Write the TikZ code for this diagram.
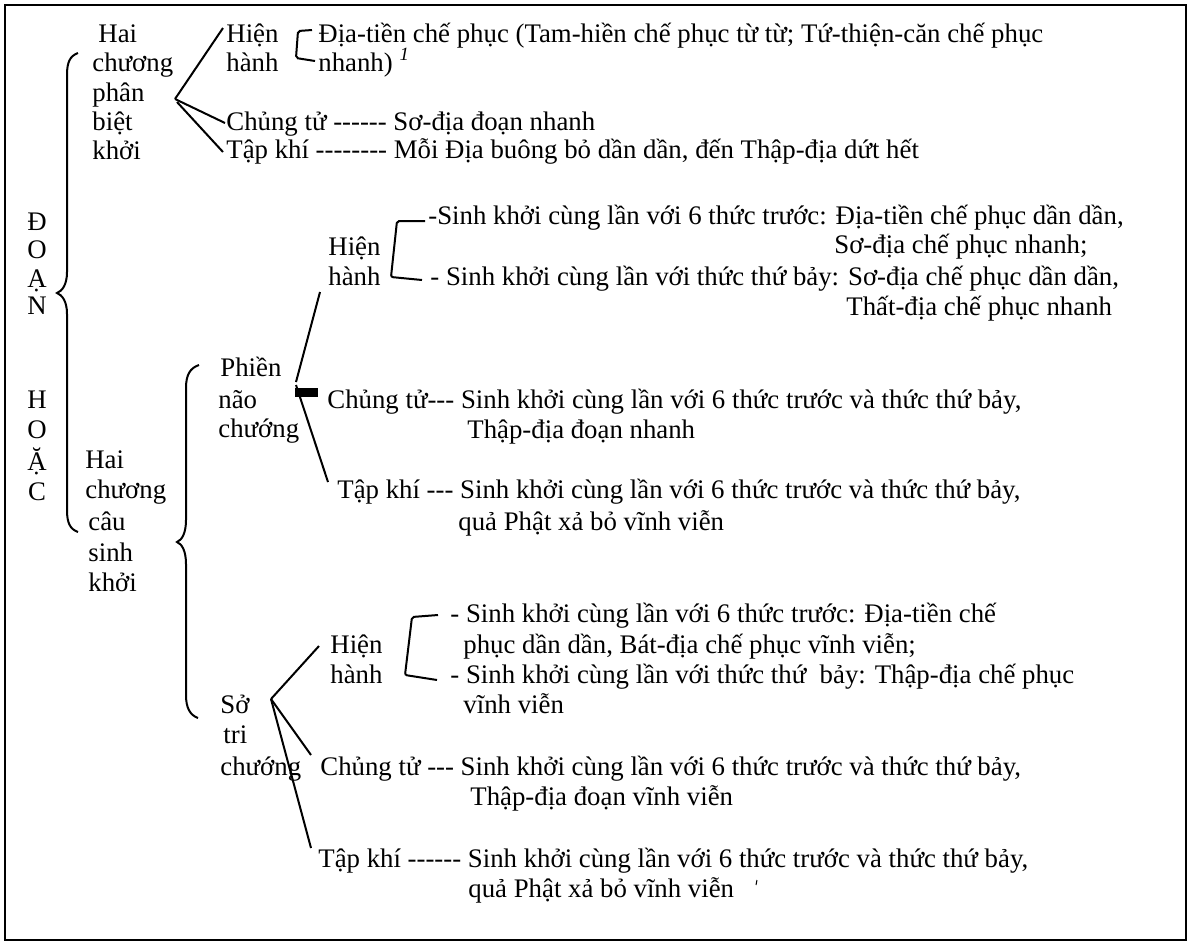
\documentclass[tikz,border=0pt]{standalone}
\usepackage{fontspec}
\newfontfamily\tnr{Liberation Serif}
\tikzset{
  t/.style={anchor=base west, inner sep=0pt, font=\tnr\fontsize{13.4}{15}\selectfont},
  tc/.style={anchor=base, inner sep=0pt, font=\tnr\fontsize{13.4}{15}\selectfont},
  ln/.style={line width=1pt},
  brk/.style={line width=1pt, rounded corners=1pt},
}
\begin{document}
\begin{tikzpicture}[x=0.5pt,y=-0.5pt]
\useasboundingbox (0,0) rectangle (1191,944);
\draw[line width=1.2pt] (5,5) rectangle (1186,940);

% --- ĐOẠN HOẶC ---
\node[tc] (l1) at (37,230) {Đ};
\node[tc] (l2) at (37,258) {O};
\node[tc] (l3) at (37,287) {Ạ};
\node[tc] (l4) at (37,314) {N};
\node[tc] (l5) at (37,408) {H};
\node[tc] (l6) at (37,438) {O};
\node[tc] (l7) at (37,470) {Ặ};
\node[tc] (l8) at (37,500) {C};

% big brace
\draw[ln] (78,53) .. controls (70,56) and (67,62) .. (67,75) -- (67,272)
  .. controls (67,285) and (62,291) .. (57,293)
  .. controls (62,295) and (67,301) .. (67,314) -- (67,510)
  .. controls (67,523) and (70,529) .. (78,532);

% --- Block 1 ---
\node[t] (a1) at (98,42) {Hai};
\node[t] (a2) at (92,71) {chương};
\node[t] (a3) at (92,101) {phân};
\node[t] (a4) at (92,130) {biệt};
\node[t] (a5) at (92,159) {khởi};

\coordinate (f1) at (175,99);
\coordinate (f1b) at (177,102);
\coordinate (e1a) at (223,28);
\coordinate (e1b) at (225,123);
\coordinate (e1c) at (223,152);
\draw[ln] (f1) -- (e1a);
\draw[ln] (f1) -- (e1b);
\draw[ln] (f1b) -- (e1c);

\node[t] (h1) at (226,42) {Hiện};
\node[t] (h1b) at (226,71) {hành};
\draw[brk] (312,30) -- (298,31) -- (296,58) -- (315,61);
\node[t] (d1) at (318,42) {Địa-tiền chế phục (Tam-hiền chế phục từ từ; Tứ-thiện-căn chế phục};
\node[t] (d2) at (318,71) {nhanh) \textsuperscript{\itshape 1}};
\node[t] (c1) at (226,130) {Chủng tử ------ Sơ-địa đoạn nhanh};
\node[t] (k1) at (226,158) {Tập khí -------- Mỗi Địa buông bỏ dần dần, đến Thập-địa dứt hết};

% --- Block 2 ---
\node[t] (b1) at (85,468) {Hai};
\node[t] (b2) at (85,498) {chương};
\node[t] (b3) at (88,530) {câu};
\node[t] (b4) at (88,561) {sinh};
\node[t] (b5) at (88,591) {khởi};

\draw[ln] (199,365) .. controls (190,368) and (186,375) .. (186,388) -- (186,520)
  .. controls (186,533) and (182,540) .. (177,542)
  .. controls (182,544) and (186,551) .. (186,564) -- (186,695)
  .. controls (186,708) and (190,715) .. (198,718);

\node[t] (p1) at (220,376) {Phiền};
\node[t] (p2) at (218,408) {não};
\node[t] (p3) at (218,437) {chướng};

\coordinate (f2) at (296,382);
\coordinate (f2b) at (296,385);
\coordinate (e2a) at (320,292);
\coordinate (e2c) at (328,482);
\draw[ln] (f2) -- (e2a);
\draw[ln] (f2b) -- (e2c);
\fill (295,388) rectangle (318,397);

\node[t] (h2) at (328,255) {Hiện};
\node[t] (h2b) at (328,285) {hành};
\draw[brk] (425,221) -- (397,221) -- (391,277) -- (422,280);
\node[t] (s1) at (428,224) {-Sinh khởi cùng lần với 6 thức trước: Địa-tiền chế phục dần dần,};
\node[t] (s2) at (834,253) {Sơ-địa chế phục nhanh;};
\node[t] (s3) at (430,285) {- Sinh khởi cùng lần với thức thứ bảy: Sơ-địa chế phục dần dần,};
\node[t] (s4) at (846,315) {Thất-địa chế phục nhanh};

\node[t] (c2) at (327,408) {Chủng tử--- Sinh khởi cùng lần với 6 thức trước và thức thứ bảy,};
\node[t] (c2b) at (467,438) {Thập-địa đoạn nhanh};
\node[t] (k2) at (337,498) {Tập khí --- Sinh khởi cùng lần với 6 thức trước và thức thứ bảy,};
\node[t] (k2b) at (458,530) {quả Phật xả bỏ vĩnh viễn};

% --- Block 3 ---
\node[t] (o1) at (220,713) {Sở};
\node[t] (o2) at (223,743) {tri};
\node[t] (o3) at (220,775) {chướng};

\coordinate (f3) at (271,699);
\coordinate (e3a) at (319,646);
\coordinate (e3b) at (311,755);
\coordinate (e3c) at (311,848);
\draw[ln] (f3) -- (e3a);
\draw[ln] (f3) -- (e3b);
\draw[ln] (f3) -- (e3c);

\node[t] (h3) at (330,653) {Hiện};
\node[t] (h3b) at (330,683) {hành};
\draw[brk] (438,615) -- (412,617) -- (405,675) -- (437,680);
\node[t] (u1) at (450,622) {- Sinh khởi cùng lần với 6 thức trước: Địa-tiền chế};
\node[t] (u2) at (463,653) {phục dần dần, Bát-địa chế phục vĩnh viễn;};
\node[t] (u3) at (450,683) {- Sinh khởi cùng lần với thức thứ\ \ bảy: Thập-địa chế phục};
\node[t] (u4) at (463,713) {vĩnh viễn};

\node[t] (c3) at (320,775) {Chủng tử --- Sinh khởi cùng lần với 6 thức trước và thức thứ bảy,};
\node[t] (c3b) at (470,805) {Thập-địa đoạn vĩnh viễn};
\node[t] (k3) at (318,867) {Tập khí ------ Sinh khởi cùng lần với 6 thức trước và thức thứ bảy,};
\node[t] (k3b) at (468,897) {quả Phật xả bỏ vĩnh viễn};
\coordinate (m1) at (757,880);
\coordinate (m2) at (756,885);
\draw[line width=0.5pt] (m1) -- (m2);
\end{tikzpicture}
\end{document}
